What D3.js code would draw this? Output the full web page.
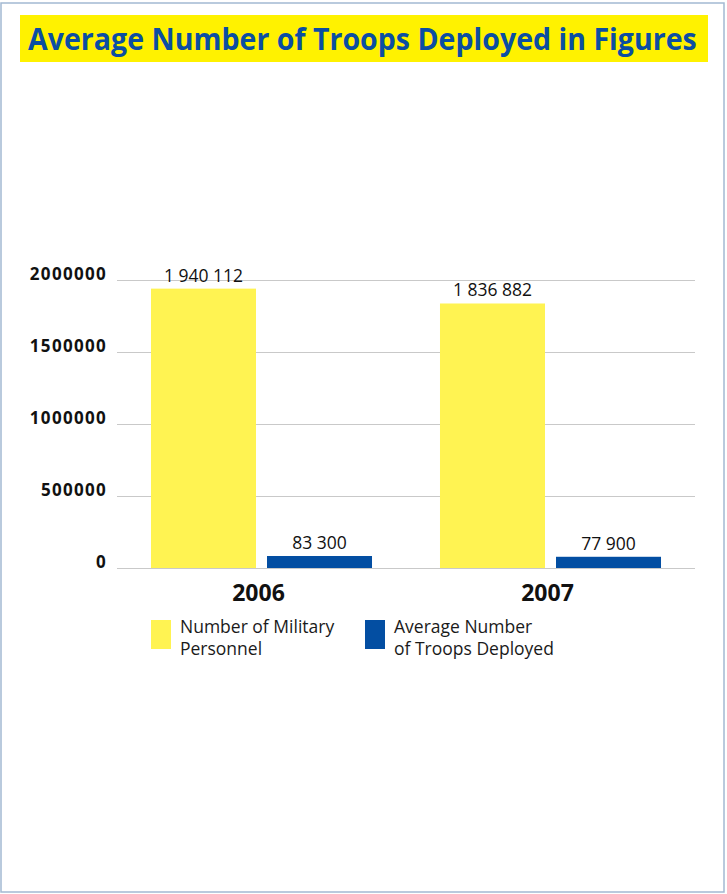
<!DOCTYPE html>
<html>
<head>
<meta charset="utf-8">
<script src="https://cdn.jsdelivr.net/npm/d3@7"></script>
<style>
  body { margin: 0; background: #fff; }
  svg { display: block; }
</style>
</head>
<body>
<div id="chart"></div>
<script>
const years = ['2006', '2007'];
const seriesNames = ['Number of Military Personnel', 'Average Number of Troops Deployed'];
const personnel = [1940112, 1836882];
const deployed = [83300, 77900];
const valueLabels = [['1 940 112', '83 300'], ['1 836 882', '77 900']];
const yTicks = [0, 500000, 1000000, 1500000, 2000000];
const legendLines = [['Number of Military', 'Personnel'], ['Average Number', 'of Troops Deployed']];

const width = 727, height = 894;
const colors = ['#fff352', '#034ea2'];

const svg = d3.select('#chart').append('svg')
    .attr('width', width)
    .attr('height', height);

// frame
svg.append('rect')
    .attr('x', 1).attr('y', 3)
    .attr('width', 723).attr('height', 889)
    .attr('fill', 'none')
    .attr('stroke', '#a3b9d2')
    .attr('stroke-width', 1.5);

// title
svg.append('rect')
    .attr('x', 20).attr('y', 15)
    .attr('width', 688).attr('height', 47)
    .attr('fill', '#fff200');
const title = svg.append('text')
    .attr('x', 0).attr('y', 0)
    .style('font-family', 'Open Sans')
    .style('font-weight', 'bold')
    .style('font-size', '31px')
    .attr('fill', '#0b4ea2')
    .text('Average Number of Troops Deployed in Figures');
// squeeze horizontally to fit the box like a condensed face
const natW = title.node().getComputedTextLength();
const fs = 31 * 669 / natW;
title.style('font-size', fs + 'px')
    .attr('transform', `translate(28,50) scale(1,${31 / fs})`);

const margin = { left: 117, right: 32 };
const plotW = width - margin.left - margin.right;

const y = d3.scaleLinear().domain([0, 2000000]).range([568, 280]);
const x0 = d3.scaleBand().domain(years).range([margin.left, margin.left + plotW]).padding(0);
const x1 = d3.scaleBand().domain([0, 1]).range([0, x0.bandwidth()])
    .paddingInner(11 / 116).paddingOuter(0.293);

const g = svg.append('g');

// gridlines + y labels
const yAxis = d3.axisLeft(y).tickValues(yTicks).tickSize(-plotW).tickFormat(d => d);
const ga = g.append('g')
    .attr('transform', `translate(${margin.left},0)`)
    .call(yAxis);
ga.select('.domain').remove();
ga.selectAll('.tick line').attr('stroke', '#c9c9c9').attr('stroke-width', 1);
ga.selectAll('.tick text')
    .attr('x', -10).attr('dy', '-0.05em')
    .style('font-family', 'Open Sans')
    .style('font-weight', 'bold')
    .style('font-size', '17px')
    .style('letter-spacing', '1.3px')
    .attr('fill', '#111');

const rows = years.map((yr, i) => ({ yr, vals: [personnel[i], deployed[i]], labels: valueLabels[i] }));

const grp = g.selectAll('.grp').data(rows).join('g')
    .attr('class', 'grp')
    .attr('transform', d => `translate(${x0(d.yr)},0)`);

grp.selectAll('rect').data(d => d.vals).join('rect')
    .attr('x', (d, i) => x1(i))
    .attr('y', d => y(d))
    .attr('width', x1.bandwidth())
    .attr('height', d => y(0) - y(d))
    .attr('fill', (d, i) => colors[i]);

grp.selectAll('.val').data(d => d.vals.map((v, i) => ({ v, i, lab: d.labels[i] }))).join('text')
    .attr('class', 'val')
    .attr('x', d => x1(d.i) + x1.bandwidth() / 2)
    .attr('y', d => y(d.v) - 7)
    .attr('text-anchor', 'middle')
    .style('font-family', 'Open Sans')
    .style('font-size', '17.5px')
    .attr('fill', '#111')
    .text(d => d.lab);

// category labels
g.selectAll('.cat').data(years).join('text')
    .attr('class', 'cat')
    .attr('x', d => x0(d) + x0.bandwidth() / 2 - 3)
    .attr('y', 601)
    .attr('text-anchor', 'middle')
    .style('font-family', 'Open Sans')
    .style('font-weight', 'bold')
    .style('font-size', '23px')
    .attr('fill', '#111')
    .text(d => d);

// legend
const legX = [151, 365];
const leg = svg.selectAll('.leg').data(seriesNames).join('g')
    .attr('class', 'leg')
    .attr('transform', (d, i) => `translate(${legX[i]},620)`);
leg.append('rect')
    .attr('width', 20).attr('height', 29)
    .attr('fill', (d, i) => colors[i]);
leg.append('text')
    .style('font-family', 'Open Sans')
    .style('font-size', '17.5px')
    .attr('fill', '#1a1a1a')
    .selectAll('tspan').data((d, i) => legendLines[i]).join('tspan')
    .attr('x', 29)
    .attr('y', (d, j) => 13 + j * 22)
    .text(d => d);
</script>
</body>
</html>
